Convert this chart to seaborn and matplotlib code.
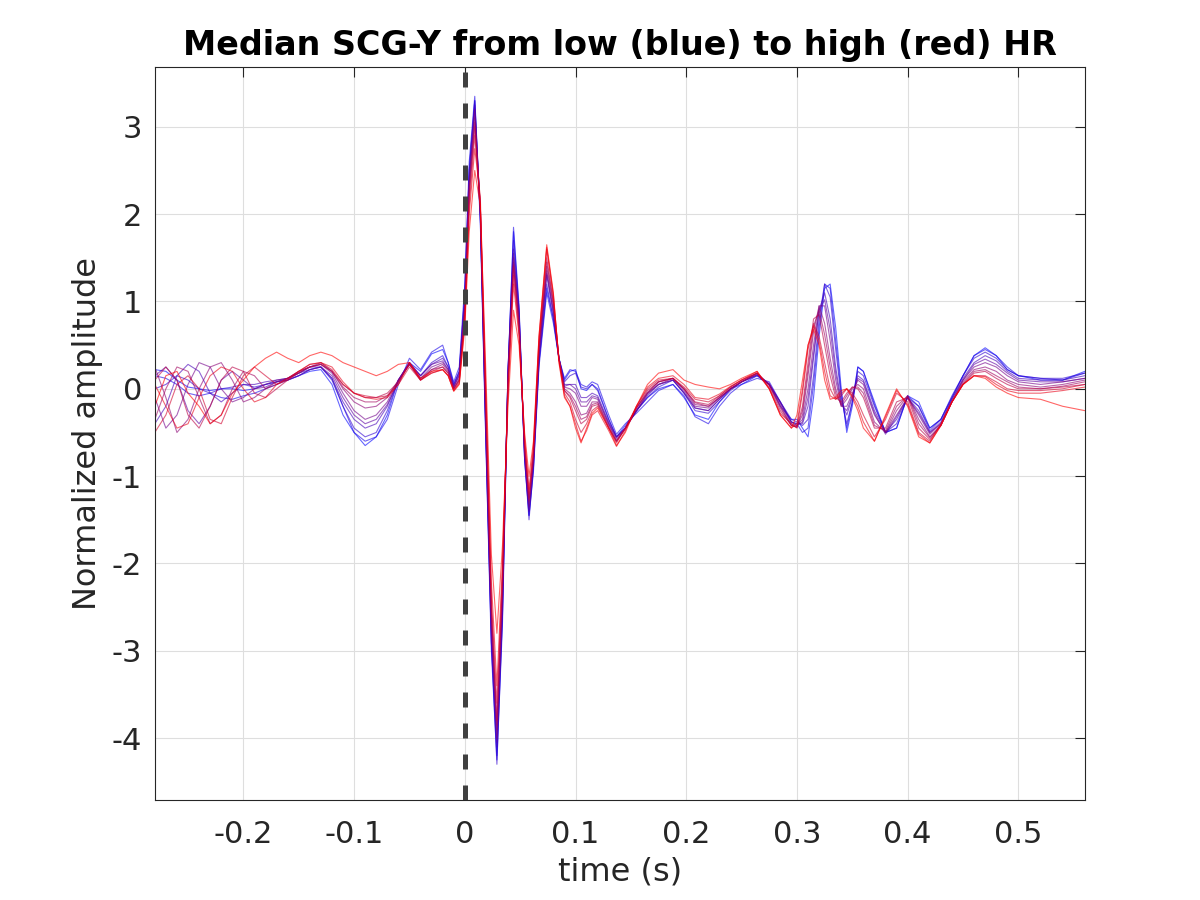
import matplotlib
matplotlib.use("Agg")
import matplotlib.pyplot as plt
import numpy as np
import pandas as pd
import seaborn as sns

# time samples (s), split by region
t_pre = [-0.28, -0.27, -0.26, -0.25, -0.24, -0.23, -0.22, -0.21, -0.20, -0.19,
         -0.18, -0.17, -0.16, -0.15, -0.14, -0.13, -0.12, -0.11, -0.10, -0.09,
         -0.08, -0.07, -0.06, -0.05, -0.04, -0.03, -0.02, -0.015]
t_core = [-0.01, -0.005, 0.0, 0.004, 0.009, 0.014, 0.019, 0.024, 0.029, 0.034,
          0.039, 0.044, 0.049, 0.054, 0.058, 0.062, 0.067, 0.074, 0.08, 0.085, 0.09]
t_post1 = [0.095, 0.10, 0.105, 0.11, 0.115, 0.12, 0.13, 0.137, 0.145, 0.155,
           0.165, 0.175, 0.188, 0.198, 0.208, 0.22, 0.23, 0.24, 0.25, 0.264,
           0.275, 0.285, 0.295]
t_post2 = [0.30, 0.305, 0.31, 0.315, 0.32, 0.325, 0.33, 0.335, 0.34, 0.345,
           0.35, 0.355, 0.36, 0.37, 0.38, 0.39, 0.40, 0.41, 0.42, 0.43,
           0.44, 0.45, 0.46, 0.47, 0.48, 0.49, 0.50, 0.52, 0.54, 0.56]
time = t_pre + t_core + t_post1 + t_post2

# median beats, lowest HR first
hr01 = [0.22, 0.2, 0.1, 0.02, 0.0, -0.02, 0.0, 0.0, -0.02, 0.0, 0.05, 0.08, 0.1, 0.15,
        0.2, 0.22, 0.05, -0.3, -0.5, -0.65, -0.55, -0.3, 0.1, 0.3, 0.2, 0.4, 0.45, 0.3,
        0.05, 0.2, 1.1, 2.5, 3.3, 1.9, -0.6, -2.9, -4.2, -2.6, 0.2, 1.8, 0.9, -0.8,
        -1.45, -0.9, 0.3, 1.15, 0.8, 0.35, 0.1,
        0.2, 0.22, 0.0, -0.02, 0.05, 0.0, -0.35, -0.55, -0.42, -0.25, -0.1, 0.0, 0.05,
        -0.1, -0.3, -0.35, -0.15, 0.0, 0.05, 0.15, 0.05, -0.2, -0.35,
        -0.35, -0.45, -0.55, -0.1, 0.6, 1.15, 1.2, 0.7, 0.0, -0.5, -0.2, 0.25, 0.2,
        -0.15, -0.5, -0.45, -0.08, -0.15, -0.45, -0.35, -0.1, 0.15, 0.38, 0.47, 0.38,
        0.22, 0.15, 0.1, 0.1, 0.2]
hr02 = [0.15, 0.12, 0.05, -0.05, -0.08, -0.05, -0.1, -0.12, -0.08, -0.05, 0.0, 0.05,
        0.1, 0.15, 0.22, 0.25, 0.12, -0.2, -0.5, -0.6, -0.55, -0.35, 0.05, 0.35, 0.22,
        0.42, 0.5, 0.3,
        0.08, 0.25, 1.2, 2.6, 3.35, 1.95, -0.6, -3.0, -4.25, -2.7, 0.15, 1.85, 0.95, -0.8,
        -1.45, -0.95, 0.25, 1.1, 0.75, 0.35, 0.12,
        0.22, 0.2, 0.05, 0.02, 0.08, 0.05, -0.3, -0.52, -0.4, -0.28, -0.15, -0.02, 0.05,
        -0.08, -0.32, -0.4, -0.2, -0.05, 0.05, 0.12, 0.08, -0.15, -0.38,
        -0.4, -0.5, -0.45, 0.05, 0.7, 1.2, 1.15, 0.55, -0.05, -0.45, -0.15, 0.25, 0.2,
        -0.18, -0.5, -0.45, -0.08, -0.2, -0.45, -0.35, -0.08, 0.15, 0.38, 0.45, 0.38,
        0.25, 0.15, 0.12, 0.1, 0.18]
hr03 = [0.0, 0.05, 0.15, 0.1, 0.0, -0.05, 0.0, 0.02, 0.05, 0.02, 0.05, 0.08, 0.12, 0.18,
        0.22, 0.25, 0.1, -0.2, -0.45, -0.55, -0.5, -0.25, 0.1, 0.28, 0.15, 0.3, 0.38, 0.25,
        0.05, 0.2, 1.1, 2.5, 3.3, 2.0, -0.5, -2.9, -4.3, -2.6, 0.2, 1.7, 0.9, -0.8,
        -1.5, -0.9, 0.3, 1.2, 0.8, 0.35, 0.08,
        0.15, 0.18, 0.02, 0.0, 0.05, -0.02, -0.35, -0.55, -0.45, -0.25, -0.1, 0.02, 0.1,
        -0.05, -0.25, -0.28, -0.15, -0.02, 0.08, 0.15, 0.05, -0.15, -0.35,
        -0.38, -0.42, -0.35, 0.15, 0.8, 1.2, 1.05, 0.45, -0.1, -0.4, -0.15, 0.2, 0.15,
        -0.2, -0.5, -0.4, -0.1, -0.2, -0.48, -0.35, -0.1, 0.15, 0.35, 0.42, 0.35,
        0.22, 0.15, 0.12, 0.12, 0.18]
hr04 = [-0.4, -0.2, 0.15, 0.28, 0.2, -0.05, -0.15, -0.05, 0.05, 0.05, 0.08, 0.1, 0.12, 0.18,
        0.25, 0.25, 0.12, -0.15, -0.35, -0.45, -0.4, -0.2, 0.1, 0.3, 0.15, 0.28, 0.35, 0.25,
        0.03, 0.18, 1.0, 2.4, 3.25, 2.0, -0.5, -2.8, -4.1, -2.5, 0.2, 1.6, 0.85, -0.75,
        -1.4, -0.85, 0.35, 1.3, 0.85, 0.35, 0.05,
        0.05, 0.05, -0.1, -0.1, -0.05, -0.08, -0.38, -0.55, -0.45, -0.25, -0.08, 0.05, 0.1,
        -0.05, -0.22, -0.25, -0.12, 0.0, 0.08, 0.16, 0.05, -0.15, -0.38,
        -0.4, -0.4, -0.2, 0.35, 0.9, 1.1, 0.8, 0.25, -0.15, -0.3, -0.1, 0.15, 0.1,
        -0.25, -0.5, -0.35, -0.1, -0.25, -0.5, -0.38, -0.12, 0.12, 0.3, 0.38, 0.32,
        0.2, 0.12, 0.1, 0.1, 0.15]
hr05 = [0.15, 0.25, 0.1, -0.25, -0.4, -0.2, 0.1, 0.2, 0.1, 0.0, 0.02, 0.08, 0.1, 0.15,
        0.22, 0.25, 0.15, -0.1, -0.3, -0.4, -0.35, -0.18, 0.08, 0.3, 0.15, 0.28, 0.32, 0.22,
        0.02, 0.16, 0.98, 2.38, 3.2, 2.0, -0.45, -2.75, -4.05, -2.45, 0.18, 1.55, 0.82,
        -0.72, -1.4, -0.82, 0.38, 1.32, 0.88, 0.35, 0.03,
        0.05, 0.0, -0.15, -0.15, -0.08, -0.1, -0.4, -0.56, -0.45, -0.26, -0.06, 0.05, 0.1,
        -0.04, -0.22, -0.25, -0.12, 0.0, 0.08, 0.16, 0.06, -0.16, -0.38,
        -0.42, -0.38, -0.1, 0.4, 0.9, 1.02, 0.68, 0.18, -0.18, -0.25, -0.08, 0.12, 0.08,
        -0.28, -0.52, -0.32, -0.1, -0.28, -0.5, -0.4, -0.12, 0.1, 0.28, 0.34, 0.28,
        0.18, 0.1, 0.08, 0.08, 0.12]
hr06 = [-0.1, -0.45, -0.3, 0.05, 0.3, 0.25, 0.0, -0.15, -0.1, 0.0, 0.05, 0.1, 0.12, 0.18,
        0.25, 0.28, 0.18, -0.05, -0.25, -0.35, -0.3, -0.15, 0.1, 0.28, 0.12, 0.25, 0.3, 0.22,
        0.02, 0.15, 0.95, 2.35, 3.2, 2.05, -0.4, -2.7, -4.0, -2.4, 0.15, 1.5, 0.8, -0.7,
        -1.35, -0.8, 0.4, 1.35, 0.9, 0.35, 0.02,
        0.0, -0.05, -0.2, -0.2, -0.1, -0.12, -0.4, -0.58, -0.45, -0.25, -0.05, 0.05, 0.12,
        -0.02, -0.2, -0.22, -0.1, 0.0, 0.08, 0.17, 0.05, -0.18, -0.4,
        -0.42, -0.35, 0.0, 0.5, 0.95, 0.95, 0.55, 0.1, -0.2, -0.2, -0.05, 0.1, 0.05,
        -0.3, -0.5, -0.3, -0.1, -0.3, -0.52, -0.4, -0.15, 0.1, 0.25, 0.3, 0.25,
        0.15, 0.08, 0.05, 0.08, 0.12]
hr07 = [0.25, -0.1, -0.5, -0.35, 0.0, 0.25, 0.3, 0.1, -0.15, -0.1, 0.0, 0.08, 0.12, 0.2,
        0.25, 0.3, 0.2, 0.0, -0.15, -0.22, -0.2, -0.1, 0.1, 0.3, 0.12, 0.22, 0.28, 0.2,
        0.0, 0.12, 0.9, 2.3, 3.1, 2.1, -0.3, -2.6, -3.9, -2.3, 0.1, 1.45, 0.75, -0.7,
        -1.3, -0.8, 0.45, 1.4, 0.95, 0.35, 0.0,
        -0.05, -0.15, -0.3, -0.28, -0.15, -0.15, -0.42, -0.6, -0.45, -0.22, -0.05, 0.08, 0.12,
        0.0, -0.18, -0.2, -0.1, 0.0, 0.08, 0.18, 0.05, -0.2, -0.42,
        -0.43, -0.3, 0.15, 0.65, 0.95, 0.75, 0.35, 0.0, -0.2, -0.12, 0.0, 0.05, 0.0,
        -0.38, -0.5, -0.25, -0.08, -0.35, -0.55, -0.42, -0.15, 0.08, 0.22, 0.25, 0.2,
        0.1, 0.05, 0.02, 0.05, 0.1]
hr08 = [-0.35, 0.0, 0.25, 0.2, -0.1, -0.4, -0.3, 0.0, 0.2, 0.15, 0.0, 0.05, 0.12, 0.2,
        0.25, 0.28, 0.2, 0.02, -0.1, -0.15, -0.15, -0.08, 0.08, 0.28, 0.1, 0.22, 0.25, 0.18,
        0.0, 0.1, 0.88, 2.25, 3.05, 2.1, -0.25, -2.55, -3.85, -2.25, 0.08, 1.42, 0.72,
        -0.68, -1.28, -0.78, 0.48, 1.45, 0.98, 0.35, -0.02,
        -0.08, -0.2, -0.35, -0.32, -0.18, -0.16, -0.44, -0.6, -0.46, -0.22, -0.04, 0.08, 0.12,
        0.0, -0.16, -0.2, -0.1, 0.0, 0.08, 0.18, 0.04, -0.22, -0.42,
        -0.44, -0.25, 0.22, 0.72, 0.9, 0.62, 0.25, -0.05, -0.18, -0.08, 0.02, 0.02, -0.05,
        -0.42, -0.48, -0.2, -0.08, -0.4, -0.56, -0.42, -0.15, 0.06, 0.2, 0.22, 0.15,
        0.08, 0.02, 0.0, 0.03, 0.08]
hr09 = [0.1, 0.25, 0.1, -0.3, -0.45, -0.2, 0.1, 0.25, 0.2, -0.05, -0.1, 0.0, 0.1, 0.18,
        0.25, 0.28, 0.2, 0.05, -0.05, -0.1, -0.1, -0.05, 0.08, 0.28, 0.1, 0.2, 0.25, 0.18,
        0.0, 0.1, 0.85, 2.2, 3.0, 2.1, -0.2, -2.5, -3.8, -2.2, 0.05, 1.4, 0.7, -0.65,
        -1.25, -0.75, 0.5, 1.5, 1.0, 0.35, -0.02,
        -0.1, -0.25, -0.4, -0.35, -0.2, -0.18, -0.45, -0.6, -0.45, -0.22, -0.02, 0.08, 0.12,
        0.0, -0.15, -0.18, -0.08, 0.02, 0.1, 0.18, 0.02, -0.25, -0.42,
        -0.44, -0.2, 0.3, 0.8, 0.85, 0.5, 0.15, -0.1, -0.15, -0.05, 0.02, 0.0, -0.1,
        -0.45, -0.45, -0.15, -0.1, -0.45, -0.58, -0.42, -0.15, 0.05, 0.18, 0.2, 0.12,
        0.05, 0.0, 0.0, 0.02, 0.05]
hr10 = [-0.5, -0.3, 0.05, 0.15, 0.0, -0.35, -0.4, -0.1, 0.15, 0.25, 0.15, 0.05, 0.1, 0.2,
        0.28, 0.3, 0.22, 0.05, -0.05, -0.08, -0.1, -0.08, 0.05, 0.25, 0.1, 0.18, 0.22, 0.15,
        -0.02, 0.08, 0.8, 2.1, 2.9, 2.1, -0.1, -2.4, -3.6, -2.1, 0.0, 1.3, 0.65, -0.6,
        -1.2, -0.7, 0.55, 1.6, 1.05, 0.35, -0.05,
        -0.15, -0.35, -0.5, -0.4, -0.25, -0.2, -0.45, -0.62, -0.45, -0.2, 0.0, 0.1, 0.12,
        0.02, -0.12, -0.15, -0.08, 0.02, 0.1, 0.18, 0.0, -0.28, -0.4,
        -0.45, -0.05, 0.45, 0.75, 0.6, 0.3, 0.0, -0.12, -0.08, 0.0, -0.05, -0.15, -0.3,
        -0.55, -0.35, -0.05, -0.15, -0.5, -0.6, -0.4, -0.15, 0.05, 0.15, 0.15, 0.08,
        0.0, -0.02, -0.02, 0.0, 0.05]
hr11 = [0.05, -0.2, -0.45, -0.4, -0.1, 0.15, 0.25, 0.2, 0.0, -0.15, -0.1, 0.05, 0.12, 0.2,
        0.28, 0.3, 0.25, 0.08, -0.05, -0.1, -0.12, -0.1, 0.05, 0.3, 0.1, 0.18, 0.22, 0.15,
        -0.02, 0.06, 0.75, 2.0, 2.75, 2.2, 0.0, -2.2, -3.4, -2.0, -0.05, 1.2, 0.6, -0.55,
        -1.15, -0.65, 0.6, 1.62, 1.08, 0.32, -0.08,
        -0.2, -0.4, -0.6, -0.48, -0.3, -0.25, -0.48, -0.66, -0.48, -0.2, 0.02, 0.12, 0.15,
        0.05, -0.1, -0.12, -0.06, 0.03, 0.1, 0.2, 0.0, -0.3, -0.45,
        -0.4, 0.0, 0.5, 0.72, 0.55, 0.2, -0.08, -0.12, -0.05, 0.0, -0.08, -0.2, -0.38,
        -0.6, -0.32, -0.02, -0.18, -0.52, -0.62, -0.42, -0.15, 0.05, 0.15, 0.14, 0.05,
        -0.02, -0.05, -0.05, -0.02, 0.02]
hr12 = [-0.2, 0.15, 0.2, -0.05, -0.2, -0.4, -0.3, -0.05, 0.1, 0.25, 0.35, 0.42, 0.35, 0.3,
        0.38, 0.42, 0.38, 0.3, 0.25, 0.2, 0.15, 0.2, 0.28, 0.3, 0.12, 0.2, 0.22, 0.15,
        -0.03, 0.05, 0.7, 1.8, 2.5, 2.1, 0.2, -1.9, -2.8, -1.8, -0.2, 0.9, 0.5, -0.5,
        -1.0, -0.6, 0.6, 1.65, 1.1, 0.3, -0.1,
        -0.2, -0.45, -0.62, -0.45, -0.28, -0.22, -0.45, -0.65, -0.5, -0.2, 0.05, 0.18, 0.22,
        0.1, 0.05, 0.02, 0.0, 0.05, 0.12, 0.2, 0.0, -0.3, -0.45,
        -0.3, 0.1, 0.5, 0.68, 0.5, 0.1, -0.12, -0.1, -0.02, 0.0, -0.1, -0.25, -0.45,
        -0.6, -0.3, 0.0, -0.2, -0.55, -0.62, -0.42, -0.15, 0.05, 0.15, 0.12, 0.02,
        -0.05, -0.1, -0.12, -0.2, -0.25]
beats = [hr01, hr02, hr03, hr04, hr05, hr06, hr07, hr08, hr09, hr10, hr11, hr12]

x_ticks = [-0.2, -0.1, 0, 0.1, 0.2, 0.3, 0.4, 0.5]
y_ticks = [-4, -3, -2, -1, 0, 1, 2, 3]

rows = []
for i, b in enumerate(beats):
    for t, v in zip(time, b):
        rows.append((i, t, v))
df = pd.DataFrame(rows, columns=["beat", "time", "amp"])

# colour runs from blue (low HR) to red (high HR)
n = len(beats)
palette = [(i / (n - 1), 0.0, 1 - i / (n - 1)) for i in range(n)]

sns.set_style("white")
plt.rcParams["axes.unicode_minus"] = False
plt.rcParams["font.family"] = ["DejaVu Sans"]

fig = plt.figure(figsize=(12, 9), dpi=100)
ax = fig.add_axes([0.129, 0.111, 0.775, 0.815])

sns.lineplot(data=df, x="time", y="amp", hue="beat", palette=palette,
             estimator=None, sort=False, linewidth=0.8, alpha=0.6,
             legend=False, ax=ax)
ax.axvline(0, color="0.25", linestyle=(0, (3, 3.2)), linewidth=3.6, zorder=5)

ax.set_xlim(-0.28, 0.56)
ax.set_ylim(-4.71, 3.69)
ax.set_xticks(x_ticks)
ax.set_xticklabels(["%g" % v for v in x_ticks])
ax.set_yticks(y_ticks)
ax.set_yticklabels(["%g" % v for v in y_ticks])
ax.grid(True, color="0.87", linewidth=0.8)
ax.tick_params(direction="in", length=7, width=0.8, top=True, right=True,
               labelsize=22, colors="0.15")
ax.tick_params(axis="x", pad=14)
ax.tick_params(axis="y", pad=9)
for s in ax.spines.values():
    s.set_color("0.15")
    s.set_linewidth(0.8)

ax.set_xlabel("time (s)", fontsize=23, color="0.15", labelpad=6)
ax.set_ylabel("Normalized amplitude", fontsize=23, color="0.15", labelpad=6)
ax.set_title("Median SCG-Y from low (blue) to high (red) HR", fontsize=24,
             fontweight="bold", color="black", pad=8)

plt.savefig("out.png")
